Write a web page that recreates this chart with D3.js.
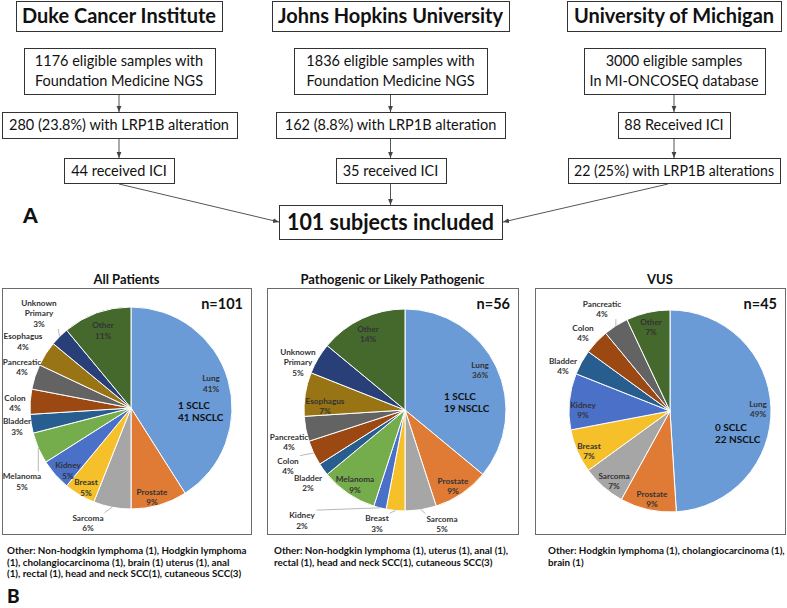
<!DOCTYPE html>
<html>
<head>
<meta charset="utf-8">
<script src="https://cdn.jsdelivr.net/npm/d3@7"></script>
<style>
  body { margin: 0; background: #fff; }
  text { font-family: Lato, "Open Sans", sans-serif; }
</style>
</head>
<body>
<div id="graphic"></div>
<script>
// ---- flowchart data ----
var centres = ["Duke Cancer Institute", "Johns Hopkins University", "University of Michigan"];
var step1 = [["1176 eligible samples with", "Foundation Medicine NGS"],
             ["1836 eligible samples with", "Foundation Medicine NGS"],
             ["3000 eligible samples", "In MI-ONCOSEQ database"]];
var step2 = ["280 (23.8%) with LRP1B alteration", "162 (8.8%) with LRP1B alteration", "88 Received ICI"];
var step3 = ["44 received ICI", "35 received ICI", "22 (25%) with LRP1B alterations"];
var included = "101 subjects included";

// ---- pie data (percent of patients) ----
var sites = ["Lung", "Prostate", "Sarcoma", "Breast", "Kidney", "Melanoma", "Bladder",
             "Colon", "Pancreatic", "Esophagus", "Unknown Primary", "Other"];
var allPct  = [41, 9, 6, 5, 5, 5, 3, 4, 4, 4, 3, 11];
var pathPct = [36, 9, 5, 3, 2, 9, 2, 4, 4, 7, 5, 14];
var vusPct  = [49, 9, 7, 7, 9, 0, 4, 4, 4, 0, 0, 7];
var panelTitles = ["All Patients", "Pathogenic or Likely Pathogenic", "VUS"];
var panelN = [101, 56, 45];
var sclcCount = [1, 1, 0];
var nsclcCount = [41, 19, 22];
var otherNotes = [
  ["Other: Non-hodgkin lymphoma (1), Hodgkin lymphoma",
   "(1), cholangiocarcinoma (1), brain (1) uterus (1), anal",
   "(1), rectal (1), head and neck SCC(1), cutaneous SCC(3)"],
  ["Other: Non-hodgkin lymphoma (1), uterus (1), anal (1),",
   "rectal (1), head and neck SCC(1), cutaneous SCC(3)"],
  ["Other: Hodgkin lymphoma (1), cholangiocarcinoma (1),",
   "brain (1)"]
];

// ---- styles ----
var siteColors = ["#6a9bd7", "#e07b35", "#a6a6a6", "#f5c02a", "#4a70c8", "#76ad4c",
                  "#285d8f", "#9b4812", "#636363", "#997415", "#283f78", "#45682d"];

var w = 787, h = 608;
var svg = d3.select("#graphic").append("svg")
    .attr("width", w)
    .attr("height", h);

svg.append("defs").append("marker")
    .attr("id", "arr")
    .attr("viewBox", "0 0 10 10")
    .attr("refX", 10).attr("refY", 5)
    .attr("markerWidth", 6).attr("markerHeight", 6)
    .attr("orient", "auto")
  .append("path")
    .attr("d", "M0,1L10,5L0,9Z")
    .attr("fill", "#444");

// shrink a text to a max width if the font runs wide
function fit(sel, maxW){
    sel.each(function(){
        var len = this.getComputedTextLength();
        if(len > maxW){
            d3.select(this).attr("textLength", maxW).attr("lengthAdjust", "spacingAndGlyphs");
        }
    });
}

// ================= A: flowchart =================
var colX = [119, 390.5, 674];
var rows = [
    {y: 1,   h: 30, w: [206, 237, 214], size: 20, bold: true, lines: centres.map(function(d){ return [d]; })},
    {y: 48,  h: 46, w: [191, 193, 181], size: 14.5, lines: step1},
    {y: 112, h: 26, w: [235, 229, 112], size: 14.5, lines: step2.map(function(d){ return [d]; })},
    {y: 158, h: 25, w: [110, 110, 212], size: 14.5, lines: step3.map(function(d){ return [d]; })}
];

var flow = svg.append("g").attr("class", "flow");

rows.forEach(function(row, ri){
    colX.forEach(function(cx, ci){
        var bw = row.w[ci];
        flow.append("rect")
            .attr("x", Math.round(cx - bw / 2) + 0.5)
            .attr("y", row.y + 0.5)
            .attr("width", bw)
            .attr("height", row.h)
            .attr("fill", "#fff")
            .attr("stroke", "#333")
            .attr("stroke-width", 1);
        var lines = row.lines[ci];
        lines.forEach(function(t, li){
            flow.append("text")
                .attr("x", cx)
                .attr("y", row.y + row.h / 2 + (li - (lines.length - 1) / 2) * 20)
                .attr("dy", "0.35em")
                .attr("text-anchor", "middle")
                .attr("font-size", row.size)
                .attr("font-weight", row.bold ? 700 : 400)
                .attr("fill", "#111")
                .text(t)
                .call(fit, bw - 12);
        });
        // arrow down to next row
        if(ri > 0 && ri < rows.length - 1){
            flow.append("line")
                .attr("x1", cx).attr("y1", row.y + row.h + 1)
                .attr("x2", cx).attr("y2", rows[ri + 1].y)
                .attr("stroke", "#555")
                .attr("marker-end", "url(#arr)");
        }
    });
});

// total box
var tot = {cx: 390.5, y: 205, w: 223, h: 34};
flow.append("rect")
    .attr("x", Math.round(tot.cx - tot.w / 2) + 0.5)
    .attr("y", tot.y + 0.5)
    .attr("width", tot.w)
    .attr("height", tot.h)
    .attr("fill", "#fff")
    .attr("stroke", "#333");
flow.append("text")
    .attr("x", tot.cx)
    .attr("y", tot.y + tot.h / 2)
    .attr("dy", "0.35em")
    .attr("text-anchor", "middle")
    .attr("font-size", 23.5)
    .attr("font-weight", 700)
    .attr("fill", "#111")
    .text(included)
    .call(fit, tot.w - 16);

var last = rows[rows.length - 1];
var fromY = last.y + last.h + 1;
var ends = [
    [tot.cx - tot.w / 2, tot.y + tot.h / 2],
    [tot.cx, tot.y],
    [tot.cx + tot.w / 2 + 1, tot.y + tot.h / 2]
];
colX.forEach(function(cx, ci){
    flow.append("line")
        .attr("x1", ci == 2 ? cx - 6 : cx).attr("y1", fromY)
        .attr("x2", ends[ci][0]).attr("y2", ends[ci][1])
        .attr("stroke", "#555")
        .attr("marker-end", "url(#arr)");
});

svg.append("text")
    .attr("x", 23).attr("y", 223)
    .attr("font-size", 21).attr("font-weight", 900)
    .attr("fill", "#111")
    .text("A");

// ================= B: pies =================
var R = 101;
var panels = [
    {x0: 2,   x1: 251, cx: 131, cy: 408, noteX: 7},
    {x0: 267, x1: 518, cx: 405, cy: 410, noteX: 274},
    {x0: 535, x1: 785, cx: 670, cy: 411, noteX: 548}
];
var panelY0 = 288, panelY1 = 534;

// label block centres relative to pie centre (best-fit placement as in the source)
var labelPos = [
    {"Lung": [80, -24.5], "Prostate": [21, 89], "Sarcoma": [-43, 115], "Breast": [-45, 79.5],
     "Kidney": [-63, 62.5], "Melanoma": [-109, 73.5], "Bladder": [-114, 18.5], "Colon": [-116, -5],
     "Pancreatic": [-109, -41], "Esophagus": [-108, -66.5], "Unknown Primary": [-92, -94.5],
     "Other": [-28, -77.5]},
    {"Lung": [75, -40], "Prostate": [48, 76], "Sarcoma": [37, 114], "Breast": [-28, 113.5],
     "Kidney": [-103, 110.5], "Melanoma": [-50, 74.5], "Bladder": [-97, 73], "Colon": [-117, 56],
     "Pancreatic": [-116, 32], "Esophagus": [-80, -4], "Unknown Primary": [-107, -47.5],
     "Other": [-37, -76]},
    {"Lung": [88, -2], "Prostate": [-18, 88], "Sarcoma": [-56, 70], "Breast": [-81, 40],
     "Kidney": [-87, -1], "Bladder": [-107, -45], "Colon": [-87, -78], "Pancreatic": [-68, -102],
     "Other": [-19, -84]}
];
var sclcPos = [[47, -3], [39, -14], [45, 16]];

var pie = d3.pie().sort(null).value(function(d){ return d.v; });
var arc = d3.arc().innerRadius(0).outerRadius(R);

[allPct, pathPct, vusPct].forEach(function(vals, i){
    var p = panels[i];
    var g = svg.append("g").attr("class", "panel");

    g.append("rect")
        .attr("x", p.x0 + 0.5).attr("y", panelY0 + 0.5)
        .attr("width", p.x1 - p.x0).attr("height", panelY1 - panelY0)
        .attr("fill", "#fff")
        .attr("stroke", "#6b6b6b");

    g.append("text")
        .attr("x", (p.x0 + p.x1) / 2).attr("y", 279)
        .attr("dy", "0.35em")
        .attr("text-anchor", "middle")
        .attr("font-size", 13).attr("font-weight", 700)
        .attr("fill", "#111")
        .text(panelTitles[i]);

    g.append("text")
        .attr("x", p.x1 - 8).attr("y", 309)
        .attr("text-anchor", "end")
        .attr("font-size", 14.5).attr("font-weight", 700)
        .attr("fill", "#111")
        .text("n=" + panelN[i]);

    var data = sites.map(function(s, k){ return {site: s, v: vals[k], color: siteColors[k]}; })
        .filter(function(d){ return d.v > 0; });
    var arcs = pie(data);

    var pg = g.append("g").attr("transform", "translate(" + p.cx + "," + p.cy + ")");
    pg.selectAll("path")
        .data(arcs)
        .enter()
        .append("path")
        .attr("d", arc)
        .attr("fill", function(d){ return d.data.color; })
        .attr("stroke", "#fff")
        .attr("stroke-width", 1);

    // slice labels
    arcs.forEach(function(d){
        var lp = labelPos[i][d.data.site];
        var lines = d.data.site.split(" ").concat([d.data.v + "%"]);
        var lg = pg.append("g").attr("transform", "translate(" + lp[0] + "," + lp[1] + ")");
        lines.forEach(function(t, li){
            lg.append("text")
                .attr("y", (li - (lines.length - 1) / 2) * 10.5)
                .attr("dy", "0.35em")
                .attr("text-anchor", "middle")
                .attr("font-size", 8.2).attr("font-weight", 700)
                .attr("fill", "#333")
                .text(t);
        });
        // leader line for labels sitting outside the pie
        if(Math.sqrt(lp[0] * lp[0] + lp[1] * lp[1]) > R + 5){
            var bb = lg.node().getBBox();
            var a = (d.startAngle + d.endAngle) / 2;
            var sx = R * Math.sin(a), sy = -R * Math.cos(a);
            var bx0 = lp[0] + bb.x - 1, bx1 = lp[0] + bb.x + bb.width + 1;
            var by0 = lp[1] + bb.y, by1 = lp[1] + bb.y + bb.height;
            var ex = Math.max(bx0, Math.min(bx1, sx));
            var ey = Math.max(by0, Math.min(by1, sy));
            if(Math.hypot(ex - sx, ey - sy) > 5){
                pg.insert("line", "g")
                    .attr("x1", sx).attr("y1", sy)
                    .attr("x2", ex).attr("y2", ey)
                    .attr("stroke", "#a6a6a6")
                    .attr("stroke-width", 0.8);
            }
        }
    });

    // lung breakdown
    var sp = sclcPos[i];
    [sclcCount[i] + " SCLC", nsclcCount[i] + " NSCLC"].forEach(function(t, li){
        pg.append("text")
            .attr("x", sp[0]).attr("y", sp[1] + li * 12.5)
            .attr("dy", "0.35em")
            .attr("font-size", 10).attr("font-weight", 700)
            .attr("fill", "#111")
            .text(t);
    });

    // footnote
    otherNotes[i].forEach(function(t, li){
        g.append("text")
            .attr("x", p.noteX).attr("y", 551 + li * 11.5)
            .attr("dy", "0.35em")
            .attr("font-size", 9.8).attr("font-weight", 700)
            .attr("fill", "#111")
            .text(t)
            .call(fit, 240);
    });
});

svg.append("text")
    .attr("x", 7).attr("y", 603)
    .attr("font-size", 19).attr("font-weight", 900)
    .attr("fill", "#111")
    .text("B");
</script>
</body>
</html>
